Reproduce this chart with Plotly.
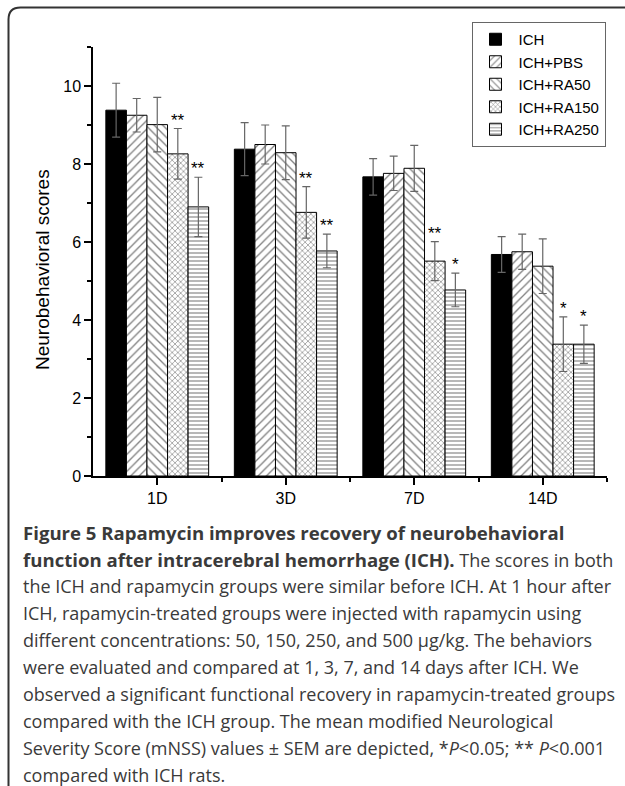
import plotly.graph_objects as go

# ---------------- data ----------------
categories = ["1D", "3D", "7D", "14D"]
series_names = ["ICH", "ICH+PBS", "ICH+RA50", "ICH+RA150", "ICH+RA250"]

ich = [9.38, 8.38, 7.67, 5.68]
ich_err = [0.69, 0.68, 0.47, 0.46]
pbs = [9.25, 8.50, 7.76, 5.75]
pbs_err = [0.43, 0.50, 0.44, 0.45]
ra50 = [9.01, 8.29, 7.89, 5.38]
ra50_err = [0.70, 0.69, 0.59, 0.70]
ra150 = [8.26, 6.76, 5.51, 3.38]
ra150_err = [0.65, 0.66, 0.50, 0.70]
ra250 = [6.90, 5.77, 4.77, 3.38]
ra250_err = [0.76, 0.43, 0.43, 0.49]

sig_ra150 = ["**", "**", "**", "*"]
sig_ra250 = ["**", "**", "*", "*"]

y_ticks = [0, 2, 4, 6, 8, 10]

BOLD = '<span style="font-size:18.6px"><b>{}</b></span>'
caption_lines = [
    BOLD.format("Figure 5 Rapamycin improves recovery of neurobehavioral"),
    BOLD.format("function after intracerebral hemorrhage (ICH).") + " The scores in both",
    "the ICH and rapamycin groups were similar before ICH. At 1 hour after",
    "ICH, rapamycin-treated groups were injected with rapamycin using",
    "different concentrations: 50, 150, 250, and 500 µg/kg. The behaviors",
    "were evaluated and compared at 1, 3, 7, and 14 days after ICH. We",
    "observed a significant functional recovery in rapamycin-treated groups",
    "compared with the ICH group. The mean modified Neurological",
    "Severity Score (mNSS) values ± SEM are depicted, *<i>P</i>&lt;0.05; ** <i>P</i>&lt;0.001",
    "compared with ICH rats.",
]

# ---------------- styles ----------------
W, H = 625, 786
ML, MR, MT, MB = 93, 18, 47, 310
PW, PH = W - ML - MR, H - MT - MB
BARGAP = 0.2

styles = [
    dict(color="black", pattern=None),
    dict(color="white", pattern=dict(shape="/", size=6, solidity=0.22, fgcolor="black", bgcolor="white")),
    dict(color="white", pattern=dict(shape="\\", size=6, solidity=0.22, fgcolor="black", bgcolor="white")),
    dict(color="white", pattern=dict(shape="x", size=4, solidity=0.3, fgcolor="black", bgcolor="white")),
    dict(color="white", pattern=dict(shape="-", size=4, solidity=0.28, fgcolor="black", bgcolor="white")),
]

values = [ich, pbs, ra50, ra150, ra250]
errors = [ich_err, pbs_err, ra50_err, ra150_err, ra250_err]
xs = list(range(len(categories)))

fig = go.Figure()
for name, vals, errs, st in zip(series_names, values, errors, styles):
    marker = dict(color=st["color"], line=dict(color="black", width=1))
    if st["pattern"]:
        marker["pattern"] = st["pattern"]
    fig.add_trace(go.Bar(
        x=xs, y=vals, name=name, marker=marker,
        error_y=dict(type="data", array=errs, visible=True,
                     color="#666666", thickness=1.2, width=4),
    ))

# significance stars
n = len(series_names)
bw = (1 - BARGAP) / n
def offset(i):
    return -(1 - BARGAP) / 2 + bw * (i + 0.5)

annotations = []
for si, sig in [(3, sig_ra150), (4, sig_ra250)]:
    for ci, s in enumerate(sig):
        annotations.append(dict(
            x=xs[ci] + offset(si), y=values[si][ci] + errors[si][ci],
            xref="x", yref="y", text=s, showarrow=False,
            xanchor="center", yanchor="bottom", yshift=-3,
            font=dict(family="Liberation Sans, Arial", size=17, color="black"),
        ))

def px2x(p):
    return (p - ML) / PW

def py2y(p):
    return (H - MB - p) / PH

# y-axis title
annotations.append(dict(
    x=px2x(42), y=py2y(270), xref="paper", yref="paper",
    text="Neurobehavioral scores", textangle=-90, showarrow=False,
    xanchor="center", yanchor="middle",
    font=dict(family="Liberation Sans, Arial", size=19, color="black"),
))

# caption
for i, line in enumerate(caption_lines):
    annotations.append(dict(
        x=px2x(21), y=py2y(532 + i * 27.0), xref="paper", yref="paper",
        text=line, showarrow=False, xanchor="left", yanchor="middle",
        font=dict(family="Open Sans", size=18, color="#3a3a3a"),
    ))

# frame with rounded top-left corner
x0, y0, r = 8.5, 7.5, 12
path = (f"M {px2x(x0)},{py2y(H + 5)} L {px2x(x0)},{py2y(y0 + r)} "
        f"Q {px2x(x0)},{py2y(y0)} {px2x(x0 + r)},{py2y(y0)} "
        f"L {px2x(W + 5)},{py2y(y0)}")
shapes = [dict(type="path", path=path, xref="paper", yref="paper",
               line=dict(color="#333333", width=2))]

fig.update_layout(
    width=W, height=H,
    margin=dict(l=ML, r=MR, t=MT, b=MB, pad=0),
    paper_bgcolor="white", plot_bgcolor="white",
    barmode="group", bargap=BARGAP, bargroupgap=0,
    font=dict(family="Liberation Sans, Arial", size=16, color="black"),
    showlegend=True,
    legend=dict(x=px2x(471.5), y=py2y(22), xanchor="left", yanchor="top",
                bordercolor="#666666", borderwidth=1, bgcolor="white",
                font=dict(family="Liberation Sans, Arial", size=15, color="black"),
                tracegroupgap=0, itemwidth=36),
    annotations=annotations,
    shapes=shapes,
)
fig.update_xaxes(
    range=[-0.5, 3.5], tickmode="array", tickvals=xs, ticktext=categories,
    showline=True, linecolor="black", linewidth=1.5, mirror=False,
    ticks="outside", ticklen=7, tickwidth=1.5, tickcolor="black",
    showgrid=False, zeroline=False,
    minor=dict(tickmode="array", tickvals=[0.5, 1.5, 2.5, 3.5], ticks="outside",
               ticklen=4, tickwidth=1.5, tickcolor="black"),
    tickfont=dict(size=16),
)
fig.update_yaxes(
    range=[0, 11], tickmode="array", tickvals=y_ticks,
    showline=True, linecolor="black", linewidth=1.5, mirror=False,
    ticks="outside", ticklen=7, tickwidth=1.5, tickcolor="black",
    showgrid=False, zeroline=False,
    minor=dict(tickmode="array", tickvals=[1, 3, 5, 7, 9, 11], ticks="outside",
               ticklen=4, tickwidth=1.5, tickcolor="black"),
    tickfont=dict(size=16),
)

fig.write_html("out.html", config={"displayModeBar": False},
               post_script="document.body.style.margin='0px';document.body.style.overflow='hidden';")
